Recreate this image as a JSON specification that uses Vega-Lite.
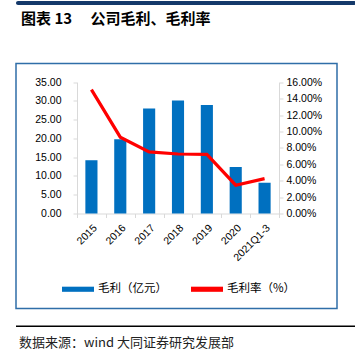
{
  "$schema": "https://vega.github.io/schema/vega-lite/v6.json",
  "padding": {"left": 15, "top": 0, "right": 0, "bottom": 0},
  "background": "#ffffff",
  "config": {
    "view": {"stroke": null},
    "font": "Liberation Sans",
    "axis": {"labelFont": "Liberation Sans", "labelFontSize": 10.5, "labelColor": "#000000", "domainColor": "#d9d9d9", "tickColor": "#d9d9d9", "tickSize": 4, "grid": false, "title": null}
  },
  "spacing": 13.5,
  "vconcat": [
    {
      "spacing": 35.5,
      "vconcat": [
        {
          "width": 340,
          "height": 4,
          "view": {"fill": "#14396a", "stroke": null, "cornerRadius": 2},
          "title": {"text": "图表 13\u3000 公司毛利、毛利率", "orient": "bottom", "anchor": "start", "dx": 5, "offset": 6, "font": "Noto Sans CJK SC", "fontSize": 15, "fontWeight": "bold", "color": "#000000"},
          "data": {"values": [{"k": 1}]},
          "mark": {"type": "point", "opacity": 0},
          "encoding": {}
        },
        {
          "width": 321,
          "height": 245,
          "view": {"stroke": "#2f6ea8", "strokeWidth": 1.5, "fill": null},
          "data": {"values": [
            {"period": "2015", "gross": 14.2, "margin": 15.1},
            {"period": "2016", "gross": 19.8, "margin": 9.3},
            {"period": "2017", "gross": 28.0, "margin": 7.5},
            {"period": "2018", "gross": 30.1, "margin": 7.25},
            {"period": "2019", "gross": 28.9, "margin": 7.2},
            {"period": "2020", "gross": 12.4, "margin": 3.45},
            {"period": "2021Q1-3", "gross": 8.2, "margin": 4.25}
          ]},
          "encoding": {
            "x": {"field": "period", "type": "nominal", "sort": null,
              "scale": {"type": "band", "range": [61, 263], "paddingInner": 0, "paddingOuter": 0},
              "axis": {"offset": -95, "labelAngle": -45, "tickBand": "extent", "labelPadding": 5}}
          },
          "layer": [
            {
              "mark": {"type": "bar", "width": {"band": 0.42}},
              "encoding": {
                "y": {"field": "gross", "type": "quantitative",
                  "scale": {"domain": [0, 35], "range": [150, 18.7], "nice": false, "zero": true},
                  "axis": {"orient": "left", "offset": -61, "values": [0, 5, 10, 15, 20, 25, 30, 35], "format": ".2f", "labelPadding": 12}},
                "color": {"datum": "毛利（亿元）", "type": "nominal",
                  "scale": {"domain": ["毛利（亿元）", "毛利率（%）"], "range": ["#0070c0", "#ff0000"]},
                  "legend": {"orient": "none", "legendX": 46, "legendY": 272, "direction": "horizontal", "title": null, "padding": 0,
                    "symbolType": "M-1,-0.16H1V0.16H-1Z", "symbolSize": 1024, "symbolStrokeWidth": 0,
                    "labelFont": "Noto Sans CJK SC", "labelFontSize": 11.5, "labelColor": "#000000", "labelOffset": 4, "columnPadding": 24}}
              }
            },
            {
              "mark": {"type": "line", "strokeWidth": 3.2},
              "encoding": {
                "y": {"field": "margin", "type": "quantitative",
                  "scale": {"domain": [0, 16], "range": [150, 18.7], "nice": false},
                  "axis": {"orient": "right", "offset": -58, "values": [0, 2, 4, 6, 8, 10, 12, 14, 16], "labelExpr": "format(datum.value, '.2f') + '%'", "labelPadding": 3}},
                "color": {"datum": "毛利率（%）", "type": "nominal"}
              }
            }
          ],
          "resolve": {"scale": {"y": "independent"}}
        }
      ]
    },
    {
      "width": 340,
      "height": 1.5,
      "view": {"fill": "#000000", "stroke": null},
      "title": {"text": "数据来源：wind 大同证券研究发展部", "orient": "bottom", "anchor": "start", "dx": 3, "offset": 8, "font": "Noto Sans CJK SC", "fontSize": 13, "fontWeight": "normal", "color": "#222222"},
      "data": {"values": [{"k": 1}]},
      "mark": {"type": "point", "opacity": 0},
      "encoding": {}
    }
  ]
}
